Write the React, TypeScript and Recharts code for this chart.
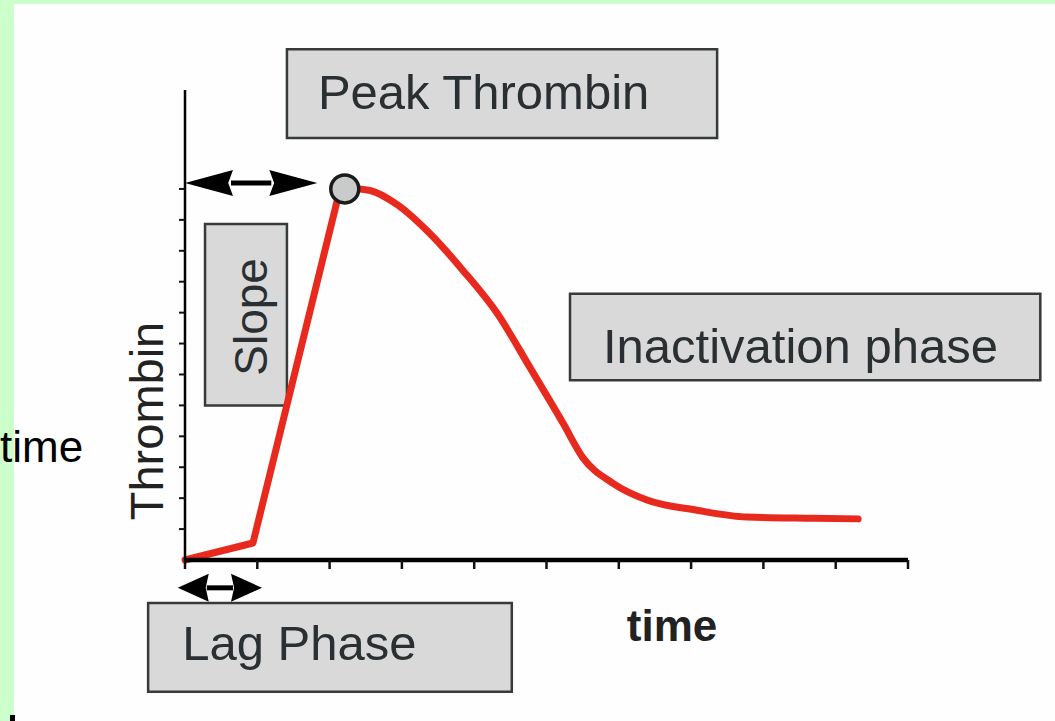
import React from 'react';
import { LineChart, Line, XAxis, YAxis, ReferenceArea, ReferenceDot, ReferenceLine, Label } from 'recharts';

const FONT = '"Liberation Sans", Arial, Helvetica, sans-serif';

// axis ticks (time units, thrombin units)
const xTicks = [0, 1, 2, 3, 4, 5, 6, 7, 8, 9, 10];
const yTicks = [1, 2, 3, 4, 5, 6, 7, 8, 9, 10, 11, 12];

// lag phase + propagation (slope)
const riseTime = [0, 0.94, 2.15];
const riseThrombin = [0, 0.55, 12.05];

// peak and inactivation phase
const decayTime = [2.15, 2.56, 2.93, 3.39, 3.85, 4.32, 4.77, 5.23, 5.5, 5.92, 6.39, 7.08, 7.77, 8.69, 9.31];
const decayThrombin = [12.05, 11.95, 11.5, 10.55, 9.35, 7.97, 6.23, 4.42, 3.32, 2.48, 1.94, 1.61, 1.39, 1.35, 1.33];

// peak marker
const peakTime = 2.21;
const peakThrombin = 12.0;

// annotation labels
const boxTexts = ['Peak Thrombin', 'Slope', 'Inactivation phase', 'Lag Phase'];
const boxTime1 = [1.41, 0.277, 5.325, -0.51];
const boxTime2 = [7.36, 1.41, 11.83, 4.52];
const boxThr1 = [13.65, 5.0, 5.81, -4.26];
const boxThr2 = [16.52, 10.87, 8.61, -1.39];

// arrows: time-to-peak and lag time
const arrowTime1 = [0, -0.1];
const arrowTime2 = [1.83, 1.065];
const arrowThr = [12.19, -0.9];

const riseData = riseTime.map((t, i) => ({ t, v: riseThrombin[i] }));
const decayData = decayTime.map((t, i) => ({ t, v: decayThrombin[i] }));

const labelStyle = [
  { dx: 31, dy: 60, vertical: false },
  { dx: 62, dy: 93, vertical: true },
  { dx: 33, dy: 69, vertical: false },
  { dx: 34, dy: 57, vertical: false },
];

const BoxLabel = (props: any) => {
  const { viewBox, text, dx, dy, vertical } = props;
  if (!viewBox) return null;
  const { x, y } = viewBox;
  if (vertical) {
    return (
      <text
        transform={`translate(${x + dx},${y + dy}) rotate(-90)`}
        textAnchor="middle"
        fontFamily={FONT}
        fontSize={46}
        fill="#2a2f32"
      >
        {text}
      </text>
    );
  }
  return (
    <text x={x + dx} y={y + dy} fontFamily={FONT} fontSize={49} fill="#2a2f32">
      {text}
    </text>
  );
};

const AxisText = (props: any) => {
  const { viewBox, text, dx, dy, vertical, bold, size } = props;
  if (!viewBox) return null;
  const { x, y } = viewBox;
  if (vertical) {
    return (
      <text
        transform={`translate(${x + dx},${y + dy}) rotate(-90)`}
        textAnchor="middle"
        fontFamily={FONT}
        fontSize={size}
        fontWeight={bold ? 'bold' : 'normal'}
        fill="#222"
      >
        {text}
      </text>
    );
  }
  return (
    <text
      x={x + dx}
      y={y + dy}
      textAnchor="middle"
      fontFamily={FONT}
      fontSize={size}
      fontWeight={bold ? 'bold' : 'normal'}
      fill="#222"
    >
      {text}
    </text>
  );
};

const DoubleArrow = (props: any) => {
  const { x1, y1, x2, y2, headLen, headHalf } = props;
  const y = (y1 + y2) / 2;
  return (
    <g>
      <line x1={x1 + headLen - 2} y1={y} x2={x2 - headLen + 2} y2={y} stroke="#000" strokeWidth={5} />
      <polygon
        points={`${x1},${y} ${x1 + headLen},${y - headHalf} ${x1 + headLen * 0.9},${y} ${x1 + headLen},${y + headHalf}`}
        fill="#000"
      />
      <polygon
        points={`${x2},${y} ${x2 - headLen},${y - headHalf} ${x2 - headLen * 0.9},${y} ${x2 - headLen},${y + headHalf}`}
        fill="#000"
      />
    </g>
  );
};

const arrowHeads = [
  { len: 48, half: 13 },
  { len: 31, half: 14 },
];

const NoTick = () => <g />;

export default function App() {
  return (
    <div
      style={{
        position: 'absolute',
        left: 0,
        top: 0,
        width: 1055,
        height: 721,
        background: '#ccffcc',
        overflow: 'hidden',
      }}
    >
      <div
        style={{
          position: 'absolute',
          left: 14,
          top: 4,
          width: 1041,
          height: 717,
          background: '#fefefe',
        }}
      />
      <div style={{ position: 'absolute', left: 0, top: 0 }}>
        <LineChart
          width={1055}
          height={721}
          margin={{ top: 90, right: 147, bottom: 131, left: 155 }}
        >
          <XAxis
            dataKey="t"
            type="number"
            domain={[0, 10]}
            ticks={xTicks}
            tick={<NoTick />}
            tickSize={9}
            height={30}
            axisLine={{ stroke: '#000', strokeWidth: 4.5 }}
            tickLine={{ stroke: '#111', strokeWidth: 2.5 }}
            interval={0}
          >
            <Label content={<AxisText text="time" dx={487} dy={81} bold size={44} />} />
          </XAxis>
          <YAxis
            dataKey="v"
            type="number"
            domain={[0, 15.2]}
            ticks={yTicks}
            tick={<NoTick />}
            tickSize={6}
            width={30}
            axisLine={{ stroke: '#000', strokeWidth: 2.5 }}
            tickLine={{ stroke: '#111', strokeWidth: 2 }}
            interval={0}
          >
            <Label content={<AxisText text="Thrombin" dx={8} dy={331} vertical size={47} />} />
          </YAxis>

          {boxTexts.map((txt, i) => (
            <ReferenceArea
              key={txt}
              x1={boxTime1[i]}
              x2={boxTime2[i]}
              y1={boxThr1[i]}
              y2={boxThr2[i]}
              ifOverflow="visible"
              fill="#d9d9d9"
              fillOpacity={1}
              stroke="#363a3b"
              strokeWidth={2.5}
              label={<BoxLabel text={txt} {...labelStyle[i]} />}
            />
          ))}

          {arrowThr.map((v, i) => (
            <ReferenceLine
              key={`arrow-${i}`}
              segment={[
                { x: arrowTime1[i], y: v },
                { x: arrowTime2[i], y: v },
              ]}
              ifOverflow="visible"
              stroke="#000"
              shape={(p: any) => <DoubleArrow {...p} headLen={arrowHeads[i].len} headHalf={arrowHeads[i].half} />}
            />
          ))}

          <Line
            data={riseData}
            dataKey="v"
            type="linear"
            stroke="#e8291e"
            strokeWidth={7}
            strokeLinecap="round"
            strokeLinejoin="round"
            dot={false}
            activeDot={false}
            isAnimationActive={false}
          />
          <ReferenceDot
            x={peakTime}
            y={peakThrombin}
            r={14}
            fill="#c9cbcb"
            stroke="#1a1c1c"
            strokeWidth={3.5}
            ifOverflow="visible"
          />
          <Line
            data={decayData}
            dataKey="v"
            type="monotone"
            stroke="#e8291e"
            strokeWidth={7}
            strokeLinecap="round"
            dot={false}
            activeDot={false}
            isAnimationActive={false}
          />
        </LineChart>
      </div>
      <svg
        width={1055}
        height={721}
        style={{ position: 'absolute', left: 0, top: 0, pointerEvents: 'none' }}
      >
        <text x={0} y={462} fontFamily={FONT} fontSize={44} fill="#000">
          time
        </text>
        <rect x={10} y={715} width={5} height={6} fill="#000" />
      </svg>
    </div>
  );
}
